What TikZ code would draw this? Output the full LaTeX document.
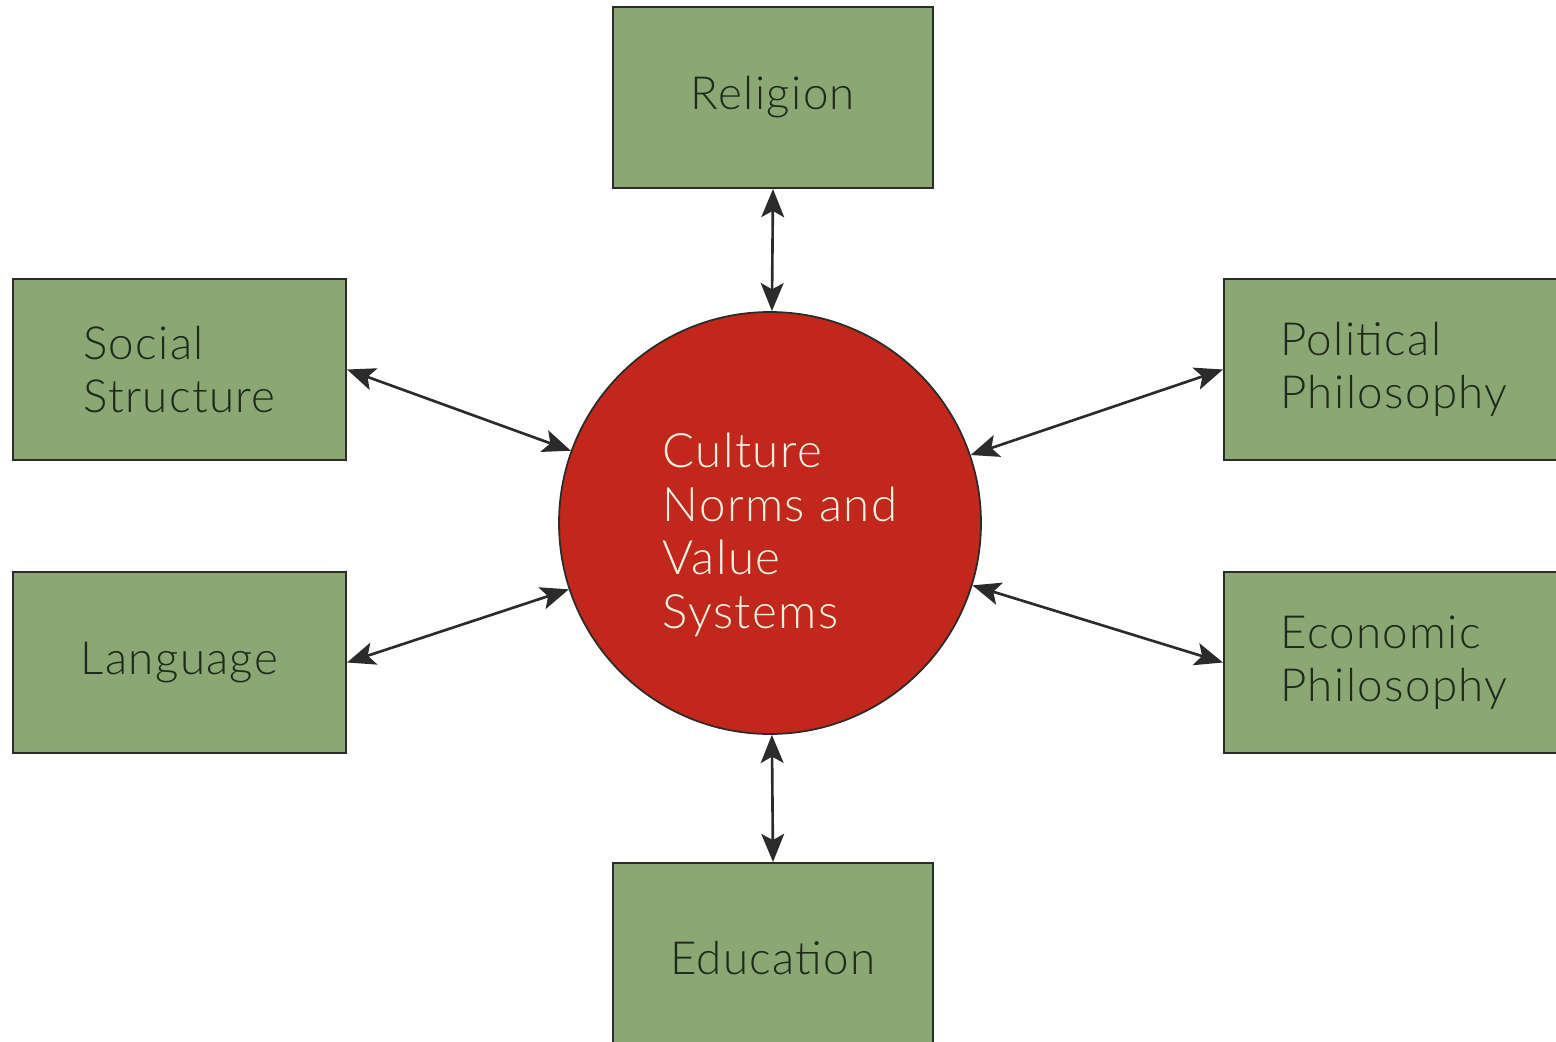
\documentclass[tikz,border=0pt]{standalone}
\usepackage{fontspec}
\setmainfont{Lato Light}[LetterSpace=3]
\usepackage{tikz}
\usetikzlibrary{arrows.meta}
\definecolor{boxgreen}{HTML}{8BA874}
\definecolor{boxtext}{HTML}{1E2A1B}
\definecolor{hubred}{HTML}{C1271A}
\definecolor{hubtext}{HTML}{FAF0E2}
\definecolor{linegray}{HTML}{2B2B2B}

\begin{document}
\begin{tikzpicture}[
  factor/.style={draw=linegray, line width=0.6pt, fill=boxgreen, text=boxtext,
    minimum height=1.81cm, align=left, inner sep=0pt,
    font=\fontsize{13}{15.2}\selectfont},
  hub/.style={circle, draw=linegray, line width=0.5pt, fill=hubred,
    minimum size=4.22cm, inner sep=0pt},
  link/.style={draw=linegray, line width=0.75pt,
    {Stealth[length=8pt,width=6.5pt,inset=1.8pt]}-{Stealth[length=8pt,width=6.5pt,inset=1.8pt]}}
]

\clip (0,0) rectangle (15.56,10.41);

% centre
\node [hub] (culture) at (7.70,5.18) {};
\node [text=hubtext, align=left, inner sep=0pt, font=\fontsize{13.5}{15.2}\selectfont]
  (culturetext) at (7.80,5.06) {Culture\\Norms and\\Value\\Systems};

% the six factors
\node [factor, minimum width=3.2cm] (religion) at (7.73,9.435) {Religion};
\node [factor, minimum width=3.33cm] (social) at (1.795,6.715) {Social\\Structure};
\node [factor, minimum width=3.33cm] (language) at (1.795,3.785) {Language};
\node [factor, minimum width=3.4cm] (political) at (13.94,6.715) {Political\\Philosophy};
\node [factor, minimum width=3.4cm] (economic) at (13.94,3.785) {Economic\\Philosophy};
\node [factor, minimum width=3.2cm, minimum height=1.9cm] (education) at (7.73,0.83) {Education};

% links
\draw [link] (religion.south) -- (culture);
\draw [link] (social.east) -- (culture);
\draw [link] (language.east) -- (culture);
\draw [link] (political.west) -- (culture);
\draw [link] (economic.west) -- (culture);
\draw [link] (education.north) -- (culture);

\end{tikzpicture}
\end{document}
